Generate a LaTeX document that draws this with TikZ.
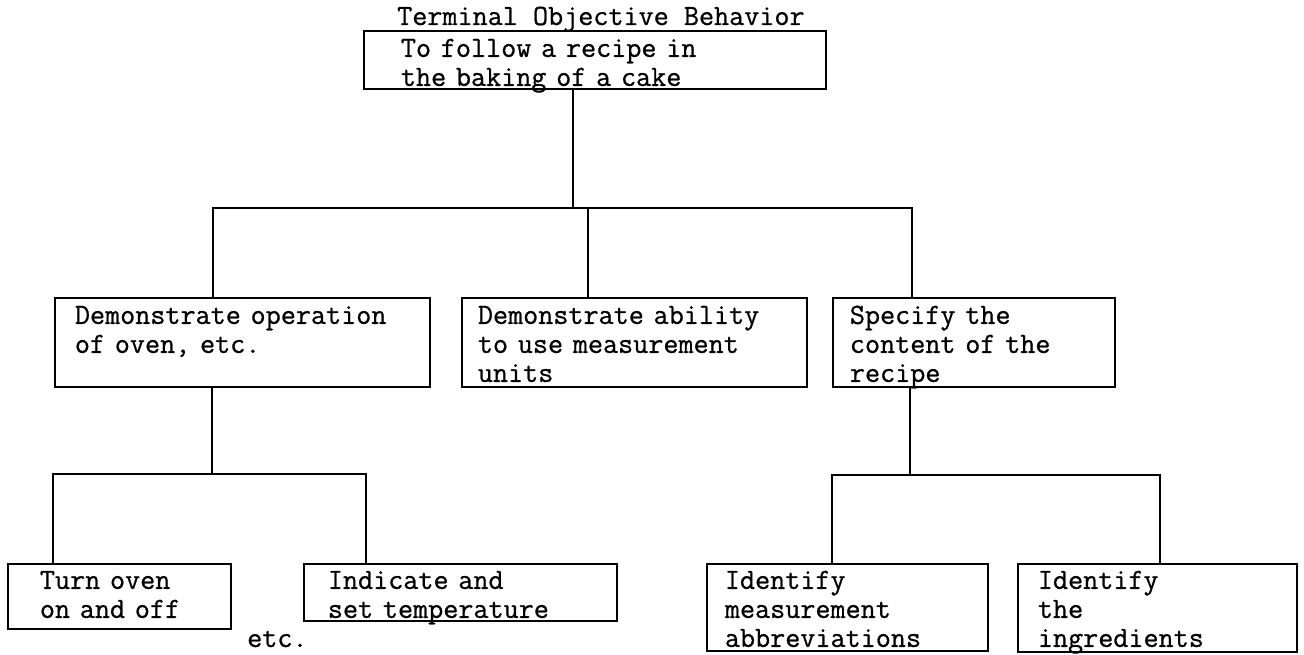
\documentclass[tikz,border=0pt]{standalone}
\usepackage{fontspec}
\usepackage{tikz}
\usetikzlibrary{%
  positioning,%
  calc,%
}
% typewriter text
\newfontfamily\typefont{Latin Modern Mono}[FakeBold=0.8,WordSpace={1,0,0}]
\newcommand{\typew}{\typefont\fontsize{29.3}{29}\selectfont}

\begin{document}
\begin{tikzpicture}[x=1pt,y=-1pt,
    goal/.style={draw,line width=1.8pt,anchor=north west,align=left,
      inner ysep=0pt,font=\typew},
    link/.style={line width=1.8pt}]
        \useasboundingbox (0,0) rectangle (1304,655);
        % top level
        \node[anchor=base west,inner sep=0pt,font=\typew] (tob) at (397,25) {Terminal Objective Behavior};
        \node[goal,inner xsep=37pt,text width=388pt,text height=26pt,text depth=32pt] (cake) at (363,30) {To follow a recipe in\\the baking of a cake};
        % second level
        \node[goal,inner xsep=20pt,text width=335pt,text height=26pt,text depth=63pt] (oven) at (54,297) {Demonstrate operation\\of oven, etc.};
        \node[goal,inner xsep=16pt,text width=313pt,text height=26pt,text depth=63pt] (units) at (461,297) {Demonstrate ability\\to use measurement\\units};
        \node[goal,inner xsep=17pt,text width=248pt,text height=26pt,text depth=63pt] (recipe) at (832,297) {Specify the\\content of the\\recipe};
        % third level
        \node[goal,inner xsep=32pt,text width=159pt,text height=25pt,text depth=40pt] (onoff) at (7,563) {Turn oven\\on and off};
        \node[goal,inner xsep=24pt,text width=265pt,text height=25pt,text depth=32pt] (temp) at (303,563) {Indicate and\\set temperature};
        \node[goal,inner xsep=18pt,text width=245pt,text height=25pt,text depth=62pt] (abbr) at (706,563) {Identify\\measurement\\abbreviations};
        \node[goal,inner xsep=20pt,text width=239pt,text height=25pt,text depth=63pt] (ingr) at (1017,563) {Identify\\the\\ingredients};
        \node[anchor=base west,inner sep=0pt,font=\typew] (etc) at (247,647) {etc.};
        % connectors
        \coordinate (b0) at (573,208);
        \coordinate (b1) at (213,208);
        \coordinate (b2) at (588,208);
        \coordinate (b3) at (912,208);
        \draw[link] (cake.south -| b0) -- (b0);
        \draw[link] (oven.north -| b1) -- (b1) -- (b3) -- (recipe.north -| b3);
        \draw[link] (units.north -| b2) -- (b2);
        \coordinate (d0) at (212,474);
        \coordinate (d1) at (53,474);
        \coordinate (d2) at (366,474);
        \draw[link] (oven.south -| d0) -- (d0);
        \draw[link] (onoff.north -| d1) -- (d1) -- (d2) -- (temp.north -| d2);
        \coordinate (e0) at (910,475);
        \coordinate (e1) at (832,475);
        \coordinate (e2) at (1160,475);
        \draw[link] (recipe.south -| e0) -- (e0);
        \draw[link] (abbr.north -| e1) -- (e1) -- (e2) -- (ingr.north -| e2);
\end{tikzpicture}
\end{document}
